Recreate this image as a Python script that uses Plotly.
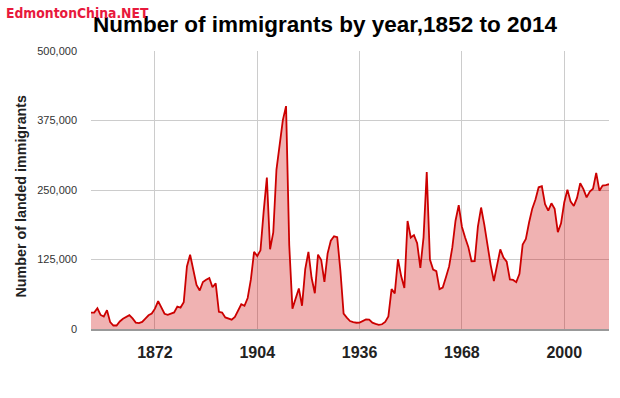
import plotly.graph_objects as go

years = list(range(1852, 2015))
immigrants = [
    29307, 29464, 37263, 25296, 22544, 33854, 12339, 6300, 6276, 13589,
    18294, 21000, 24779, 18958, 11427, 10666, 12765, 18630, 24706, 27773,
    36578, 50050, 39373, 27382, 25633, 27082, 29807, 40492, 38505, 47991,
    112458, 133624, 103824, 79169, 69152, 84526, 88766, 91600, 75067, 82165,
    30996, 29633, 20829, 18790, 16835, 21716, 31900, 44543, 41681, 55747,
    89102, 138660, 131252, 141465, 211653, 272409, 143326, 173694, 286839, 331288,
    375756, 400870, 150484, 36665, 55914, 72910, 41845, 107698, 138824, 91728,
    64224, 133729, 124164, 84907, 135982, 158886, 166783, 164993, 104806, 27530,
    20591, 14382, 12476, 11277, 11643, 15101, 17244, 16994, 11324, 9329,
    7576, 8504, 12801, 22722, 71719, 64127, 125414, 95217, 73912, 194391,
    164498, 168868, 154227, 109946, 164857, 282164, 124851, 106928, 104111, 71698,
    74586, 93151, 112606, 146758, 194743, 222876, 183974, 164531, 147713, 121900,
    122006, 184200, 218465, 187881, 149429, 114914, 86313, 112096, 143117, 128618,
    121147, 89157, 88239, 84302, 99219, 152098, 161929, 191555, 216452, 232744,
    254817, 256741, 224364, 212859, 226073, 216038, 174195, 189954, 227458, 250639,
    229091, 221349, 235823, 262242, 251640, 236753, 247243, 252179, 280681, 248748,
    257887, 258953, 260404,
]
x_ticks = [1872, 1904, 1936, 1968, 2000]
y_ticks = [0, 125000, 250000, 375000, 500000]
y_tick_labels = ["0", "125,000", "250,000", "375,000", "500,000"]

title_text = "Number of immigrants by year,1852 to 2014"
y_title = "Number of landed immigrants"
watermark = "EdmontonChina.NET"

FONT = "Liberation Sans, Arial, sans-serif"

fig = go.Figure()
fig.add_trace(go.Scatter(
    x=years, y=immigrants, mode="lines",
    line=dict(color="#cc0000", width=1.8),
    fill="tozeroy", fillcolor="rgba(204,0,0,0.30)",
    hoverinfo="x+y",
))

fig.update_layout(
    width=620, height=398,
    margin=dict(l=91, r=11, t=51, b=69),
    paper_bgcolor="white", plot_bgcolor="white",
    showlegend=False,
    font=dict(family=FONT, color="#222222"),
    title=dict(
        text="<b>" + title_text + "</b>",
        x=325 / 620, xanchor="center",
        y=1 - 24 / 398, yanchor="middle",
        font=dict(family=FONT, size=22.5, color="#000000"),
    ),
    xaxis=dict(
        range=[1852, 2014],
        tickvals=x_ticks,
        ticktext=["<b>%d</b>" % v for v in x_ticks],
        tickfont=dict(family=FONT, size=16, color="#222222"),
        showgrid=True, gridcolor="#cccccc", gridwidth=1,
        showline=True, linecolor="#999999", linewidth=2,
        zeroline=False, ticks="", ticklabelstandoff=8,
    ),
    yaxis=dict(
        range=[0, 500000],
        tickvals=y_ticks,
        ticktext=y_tick_labels,
        tickfont=dict(family=FONT, size=11, color="#333333"),
        showgrid=True, gridcolor="#cccccc", gridwidth=1,
        zeroline=False, showline=False, ticks="", ticklabelstandoff=13,
    ),
    annotations=[
        dict(
            text="<b>" + y_title + "</b>",
            xref="paper", yref="paper",
            x=(20 - 91) / 518, y=(329 - 196.5) / 278,
            xanchor="center", yanchor="middle", textangle=-90,
            showarrow=False,
            font=dict(family=FONT, size=14.3, color="#222222"),
        ),
        dict(
            text="<b>" + watermark + "</b>",
            xref="paper", yref="paper",
            x=(4 - 91) / 518, y=(329 - 13) / 278,
            xanchor="left", yanchor="middle",
            showarrow=False,
            font=dict(family="DejaVu Sans Condensed, Liberation Sans Narrow, Liberation Sans, sans-serif",
                      size=13.8, color="#e8193c"),
        ),
    ],
)

fig.write_html(
    "out.html",
    config={"displayModeBar": False},
    post_script="document.body.style.margin='0';document.body.style.overflow='hidden';",
)
